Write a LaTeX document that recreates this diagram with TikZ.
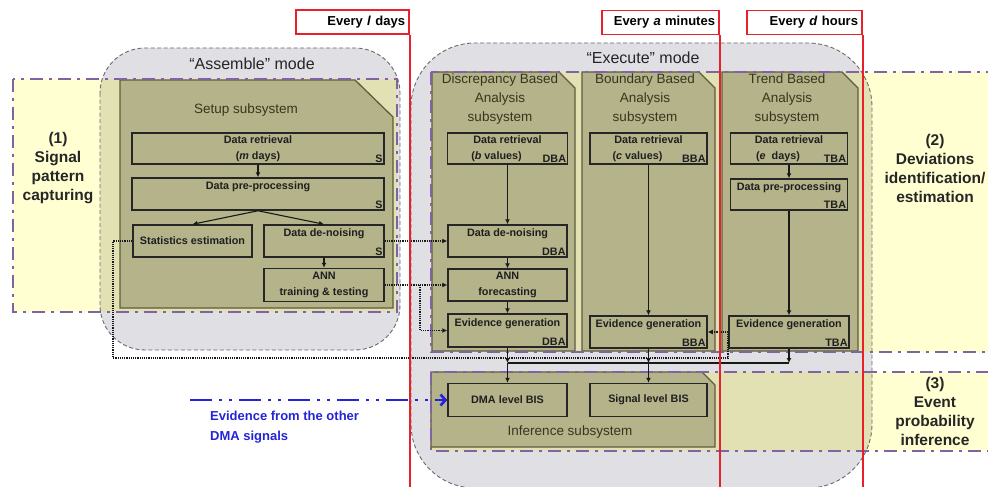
\documentclass[tikz,border=0pt]{standalone}
\usepackage{fontspec}
\setmainfont{Liberation Sans}
\usetikzlibrary{arrows.meta}

\definecolor{modegray}{HTML}{DFDFE4}
\definecolor{modeedge}{HTML}{6A6A6A}
\definecolor{zoneyellow}{HTML}{FFFFD2}
\definecolor{zonekhaki}{HTML}{E2E1B3}
\definecolor{zonepurple}{HTML}{8064A2}
\definecolor{subolive}{HTML}{B5B38A}
\definecolor{subedge}{HTML}{5E5D3C}
\definecolor{titleolive}{HTML}{36361E}
\definecolor{timered}{HTML}{E8202A}
\definecolor{evblue}{HTML}{2424D8}

\tikzset{
	modeedgeline/.style={draw=modeedge, line width=0.9pt, dash pattern=on 4pt off 2.5pt},
	modetitle/.style={font=\fontsize{16}{18}\selectfont, text=black!85},
	zone/.style={draw=zonepurple, line width=2.8pt, dash pattern=on 13pt off 6pt on 3pt off 6pt},
	zonelabel/.style={align=center, font=\fontsize{15.5}{19}\selectfont\bfseries, text=black!85},
	subsys/.style={fill=subolive, draw=subedge, line width=1.3pt},
	subtitle/.style={align=center, text=titleolive, font=\fontsize{13.5}{19}\selectfont},
	stepbox/.style={shape=rectangle, draw=black!85, fill=subolive, line width=1.5pt, inner sep=1pt, align=center, text=black!88, font=\fontsize{10.8}{16}\selectfont\bfseries},
	sidetag/.style={anchor=south east, inner sep=2pt, text=black!88, font=\fontsize{10.8}{12}\selectfont\bfseries},
	flow/.style={-{Latex[length=5pt,width=5pt]}, line width=1.1pt, black!90},
	dotflow/.style={-{Latex[length=5pt,width=5pt]}, line width=1.2pt, densely dotted, black!90},
	evflow/.style={-{Straight Barb[length=5pt,width=11pt]}, line width=2.6pt, evblue, dash pattern=on 22pt off 7pt on 3pt off 7pt on 3pt off 7pt},
	evtext/.style={align=left, text=evblue, inner sep=0pt, font=\fontsize{13}{20}\selectfont\bfseries},
	timebox/.style={draw=timered, fill=white, line width=1.6pt, minimum height=24pt, inner sep=4pt, align=right, font=\fontsize{13}{15}\selectfont\bfseries},
	timeline/.style={timered, line width=1.8pt}
}

\begin{document}
\begin{tikzpicture}[x=1pt, y=-1pt]
	\useasboundingbox (0,0) rectangle (988,487);
	% Modes and zones:
	\fill[modegray, rounded corners=45pt] (100,48) rectangle (400,350);
	\fill[modegray, rounded corners=64pt] (411,43) rectangle (872,488);
	\fill[zoneyellow] (13,79) rectangle (397,312);
	\fill[zoneyellow] (431,72) rectangle (995,352);
	\fill[zoneyellow] (431,372) rectangle (995,451);
	\begin{scope}
		\clip[rounded corners=45pt] (100,48) rectangle (400,350);
		\fill[zonekhaki] (13,79) rectangle (397,312);
	\end{scope}
	\begin{scope}
		\clip[rounded corners=64pt] (411,43) rectangle (872,488);
		\fill[zonekhaki] (431,72) rectangle (995,352);
		\fill[zonekhaki] (431,372) rectangle (995,451);
	\end{scope}
	\draw[modeedgeline, rounded corners=45pt] (100,48) rectangle (400,350);
	\draw[modeedgeline, rounded corners=64pt] (411,43) rectangle (872,488);
	\node[modetitle] (assembleMode) at (252,64) {“Assemble” mode};
	\node[modetitle] (executeMode) at (643,58) {“Execute” mode};

	% Subsystems:
	\draw[subsys] (120,80) -- (355,80) -- (393,117) -- (393,308) -- (120,308) -- cycle;
	\draw[subsys] (432,72) -- (559,72) -- (575,88) -- (575,351) -- (432,351) -- cycle;
	\draw[subsys] (582,72) -- (699,72) -- (715,88) -- (715,351) -- (582,351) -- cycle;
	\draw[subsys] (722,72) -- (842,72) -- (858,88) -- (858,351) -- (722,351) -- cycle;
	\draw[subsys] (431,372) -- (702,372) -- (715,385) -- (715,447) -- (431,447) -- cycle;
	\draw[zone] (13,79) rectangle (397,312);
	\draw[zone] (431,72) rectangle (995,352);
	\draw[zone] (431,372) rectangle (995,451);

	\node[subtitle] (setupTitle) at (246,110) {Setup subsystem};
	\node[subtitle] (dbaTitle) at (500,99) {Discrepancy Based\\Analysis\\subsystem};
	\node[subtitle] (bbaTitle) at (645,99) {Boundary Based\\Analysis\\subsystem};
	\node[subtitle] (tbaTitle) at (787,99) {Trend Based\\Analysis\\subsystem};
	\node[subtitle] (infTitle) at (570,432) {Inference subsystem};

	% Setup steps:
	\node[stepbox, minimum width=252pt, minimum height=31pt] (sRet) at (258,148.5) {Data retrieval\\(\textit{m} days)};
	\node[stepbox, minimum width=252pt, minimum height=32pt] (sPre) at (258,194) {Data pre-processing\\\mbox{}};
	\node[stepbox, minimum width=119pt, minimum height=32pt] (sStat) at (192.5,241) {Statistics estimation};
	\node[stepbox, minimum width=120pt, minimum height=32pt] (sDen) at (324,241) {Data de-noising\\\mbox{}};
	\node[stepbox, minimum width=120pt, minimum height=33pt] (sAnn) at (324,285) {ANN\\training \& testing};
	\node[sidetag] (sRetTag) at (sRet.south east) {S};
	\node[sidetag] (sPreTag) at (sPre.south east) {S};
	\node[sidetag] (sDenTag) at (sDen.south east) {S};

	% Analysis steps:
	\node[stepbox, minimum width=120pt, minimum height=31pt] (dRet) at (507.5,148.5) {Data retrieval\\(\textit{b} values)\hspace{22pt}\mbox{}};
	\node[stepbox, minimum width=119pt, minimum height=32pt] (dDen) at (507.5,241) {Data de-noising\\\mbox{}};
	\node[stepbox, minimum width=119pt, minimum height=32pt] (dAnn) at (507.5,285) {ANN\\forecasting};
	\node[stepbox, minimum width=119pt, minimum height=33pt] (dEvi) at (507.5,330.5) {Evidence generation\\\mbox{}};
	\node[stepbox, minimum width=117pt, minimum height=31pt] (bRet) at (648.5,148.5) {Data retrieval\\(\textit{c} values)\hspace{22pt}\mbox{}};
	\node[stepbox, minimum width=117pt, minimum height=32pt] (bEvi) at (648.5,332) {Evidence generation\\\mbox{}};
	\node[stepbox, minimum width=117pt, minimum height=31pt] (tRet) at (789,148.5) {Data retrieval\\(\textit{e}\ \ days)\hspace{22pt}\mbox{}};
	\node[stepbox, minimum width=117pt, minimum height=31pt] (tPre) at (789,194.5) {Data pre-processing\\\mbox{}};
	\node[stepbox, minimum width=120pt, minimum height=32pt] (tEvi) at (789,332) {Evidence generation\\\mbox{}};
	\node[sidetag] (dRetTag) at (dRet.south east) {DBA};
	\node[sidetag] (dDenTag) at (dDen.south east) {DBA};
	\node[sidetag] (dEviTag) at (dEvi.south east) {DBA};
	\node[sidetag] (bRetTag) at (bRet.south east) {BBA};
	\node[sidetag] (bEviTag) at (bEvi.south east) {BBA};
	\node[sidetag] (tRetTag) at (tRet.south east) {TBA};
	\node[sidetag] (tPreTag) at (tPre.south east) {TBA};
	\node[sidetag] (tEviTag) at (tEvi.south east) {TBA};

	% Inference steps:
	\node[stepbox, minimum width=119pt, minimum height=33pt] (dmaBis) at (507.5,400) {DMA level BIS};
	\node[stepbox, minimum width=117pt, minimum height=33pt] (sigBis) at (648.5,400) {Signal level BIS};

	% Wires:
	\draw[flow] (sRet) -- (sPre);
	\draw[flow] (sPre.south) -- (sStat.north);
	\draw[flow] (sPre.south) -- (sDen.north);
	\draw[flow] (sDen) -- (sAnn);
	\draw[flow] (dRet) -- (dDen);
	\draw[flow] (dDen) -- (dAnn);
	\draw[flow] (dAnn) -- (dEvi);
	\draw[flow] (bRet) -- (bEvi);
	\draw[flow] (tRet) -- (tPre);
	\draw[flow] (tPre) -- (tEvi);
	\coordinate (busD) at (507.5,363);
	\coordinate (busB) at (648.5,363);
	\coordinate (busT) at (789,363);
	\draw[flow] (dEvi) -- (busD);
	\draw[flow] (bEvi) -- (busB);
	\draw[flow] (tEvi) -- (busT);
	\draw[line width=1.1pt, black!90] (busD) -- (busT);
	\draw[flow] (busD) -- (dmaBis);
	\draw[flow] (busB) -- (sigBis);
	\coordinate (annSplit) at (420,285);
	\coordinate (loopLeft) at (113,358);
	\coordinate (loopRight) at (728,358);
	\draw[dotflow] (sDen) -- (dDen);
	\draw[dotflow] (sAnn) -- (dAnn);
	\draw[dotflow] (annSplit) |- (dEvi);
	\draw[dotflow] (sStat) -| (loopLeft) -- (loopRight) |- (bEvi);
	\coordinate (evSrc) at (190,400);
	\draw[evflow] (evSrc) -- (dmaBis);
	\node[evtext, anchor=west] (evText) at (210,427) {Evidence from the other\\DMA signals};

	% Zone labels:
	\node[zonelabel] (zoneOne) at (58,168.5) {(1)\\Signal\\pattern\\capturing};
	\node[zonelabel] (zoneTwo) at (935,168.5) {(2)\\Deviations\\identification/\\estimation};
	\node[zonelabel] (zoneThree) at (935,411) {(3)\\Event\\probability\\inference};

	% Time marks:
	\node[timebox, text width=105pt] (everyL) at (352.5,22) {Every \textit{l} days};
	\node[timebox, text width=109pt] (everyA) at (660.5,22.5) {Every \textit{a} minutes};
	\node[timebox, text width=107pt] (everyD) at (804.5,22.5) {Every \textit{d} hours};
	\draw[timeline] (everyL.south east) -- ++(0,460);
	\draw[timeline] (everyA.south east) -- ++(0,460);
	\draw[timeline] (everyD.south east) -- ++(0,460);
\end{tikzpicture}
\end{document}
